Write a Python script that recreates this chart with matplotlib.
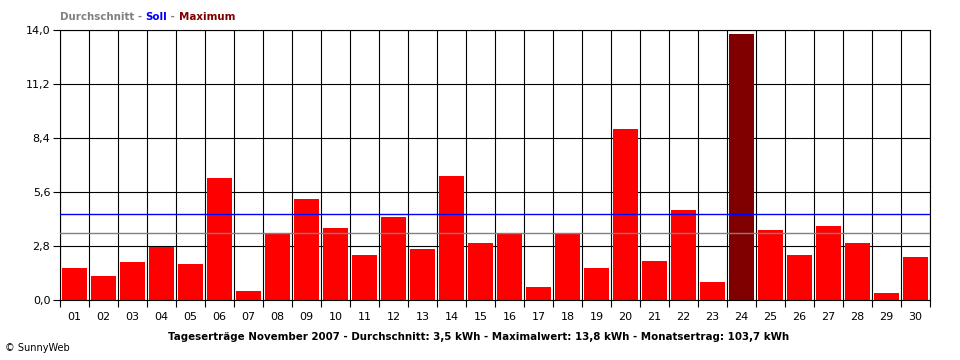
import numpy as np
import matplotlib.pyplot as plt

# daily yields November 2007 (kWh)
days = ['01', '02', '03', '04', '05', '06', '07', '08', '09', '10',
        '11', '12', '13', '14', '15', '16', '17', '18', '19', '20',
        '21', '22', '23', '24', '25', '26', '27', '28', '29', '30']
yields = [1.66, 1.24, 1.97, 2.76, 1.87, 6.32, 0.47, 3.47, 5.24, 3.73,
          2.33, 4.30, 2.64, 6.43, 2.95, 3.42, 0.67, 3.42, 1.66, 8.86,
          2.02, 4.67, 0.93, 13.8, 3.63, 2.33, 3.84, 2.95, 0.36, 2.23]
average = 3.5
target = 4.45
y_ticks = [0.0, 2.8, 5.6, 8.4, 11.2, 14.0]

plt.rcParams['font.family'] = 'DejaVu Sans'

fig = plt.figure(figsize=(9.6, 3.6), dpi=100)
ax = fig.add_axes([60 / 960, 1 - 300 / 360, 870 / 960, 270 / 360])

x = np.arange(len(days))
imax = int(np.argmax(yields))
colors = ['#ff0000'] * len(days)
colors[imax] = '#800000'

ax.bar(x, yields, width=0.87, color=colors, zorder=2)
ax.axhline(average, color='#808080', lw=1, zorder=3)
ax.axhline(target, color='#0000ff', lw=1, zorder=3)

ax.set_xlim(-0.5, len(days) - 0.5)
ax.set_ylim(0, 14)

# grid: vertical lines between days (major), day labels centred (minor)
ax.set_xticks(list(x - 0.5) + [len(days) - 0.5])
ax.set_xticklabels([''] * (len(days) + 1))
ax.set_xticks(x, minor=True)
ax.set_xticklabels(days, minor=True)
ax.tick_params(axis='x', which='major', length=5, width=0.8, color='black')
ax.tick_params(axis='x', which='minor', length=0, pad=9, labelsize=8)
ax.grid(True, axis='x', which='major', color='black', lw=0.8)

ax.set_yticks(y_ticks)
ax.set_yticklabels([f'{v:.1f}'.replace('.', ',') for v in y_ticks], fontsize=8)
ax.tick_params(axis='y', length=5, width=0.8, color='black', pad=2)
ax.grid(True, axis='y', color='black', lw=0.8)
ax.set_axisbelow(True)
for s in ax.spines.values():
    s.set_color('black')
    s.set_linewidth(0.8)

# legend-like header, pieces placed one after the other
hdr = [('Durchschnitt - ', '#808080'), ('Soll', '#0000ff'),
       (' - ', '#808080'), ('Maximum', '#800000')]
fig.canvas.draw()
r = fig.canvas.get_renderer()
xpos = 60
for txt, c in hdr:
    t = fig.text(xpos / 960, 1 - 17 / 360, txt, color=c,
                 fontsize=7.4, fontweight='bold', va='center')
    xpos = t.get_window_extent(r).x1

fig.text(479 / 960, 1 - 337 / 360,
         'Tageserträge November 2007 - Durchschnitt: 3,5 kWh - '
         'Maximalwert: 13,8 kWh - Monatsertrag: 103,7 kWh',
         fontsize=7.4, fontweight='bold', ha='center', va='center')
fig.text(5 / 960, 1 - 348 / 360, '© SunnyWeb', fontsize=7, va='center')

fig.savefig('out.png', dpi=100)
